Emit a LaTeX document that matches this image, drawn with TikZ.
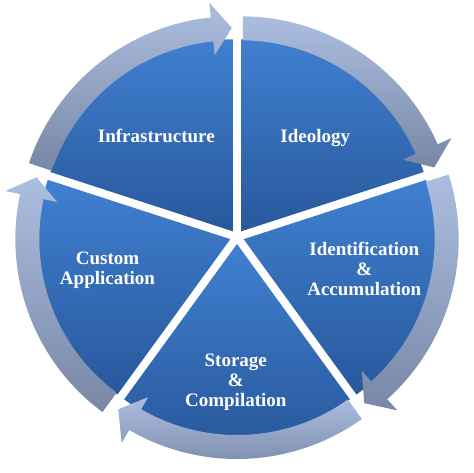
\documentclass[tikz,border=0pt]{standalone}
\usepackage{fontspec}
\setmainfont{Liberation Serif}

\definecolor{segtop}{RGB}{64,128,208}
\definecolor{segbottom}{RGB}{40,88,156}
\definecolor{ringtop}{RGB}{172,190,224}
\definecolor{ringbottom}{RGB}{120,135,166}

\tikzset{
    segment/.style={top color=segtop, bottom color=segbottom, draw=none},
    ringarrow/.style={top color=ringtop, bottom color=ringbottom, draw=none},
    seglabel/.style={text=white, font=\bfseries\fontsize{19}{20}\selectfont, align=center, inner sep=0pt}
}

\begin{document}
\begin{tikzpicture}[x=1pt, y=1pt]
    \useasboundingbox (-237,-235) rectangle (237,237);

    % pie segments, each pushed out along its middle
    \path [segment, shift={(54:7)}] (0,0) -- (90:192) arc[start angle=90, end angle=18, radius=192] -- cycle;
    \path [segment, shift={(-18:7)}] (0,0) -- (18:192) arc[start angle=18, end angle=-54, radius=192] -- cycle;
    \path [segment, shift={(-90:7)}] (0,0) -- (-54:192) arc[start angle=-54, end angle=-126, radius=192] -- cycle;
    \path [segment, shift={(-162:7)}] (0,0) -- (-126:192) arc[start angle=-126, end angle=-198, radius=192] -- cycle;
    \path [segment, shift={(126:7)}] (0,0) -- (162:192) arc[start angle=162, end angle=90, radius=192] -- cycle;

    % ring arrows
    \path [ringarrow, shift={(54:7)}] (89.5:215) arc[start angle=89.5, end angle=23.9, radius=215] -- (23.9:230) -- (18.3:203.5) -- (23.9:177) -- (23.9:191) arc[start angle=23.9, end angle=89.5, radius=191] -- cycle;
    \path [ringarrow, shift={(-18:7)}] (17.5:215) arc[start angle=17.5, end angle=-48.1, radius=215] -- (-48.1:230) -- (-53.7:203.5) -- (-48.1:177) -- (-48.1:191) arc[start angle=-48.1, end angle=17.5, radius=191] -- cycle;
    \path [ringarrow, shift={(-90:7)}] (-54.5:215) arc[start angle=-54.5, end angle=-120.1, radius=215] -- (-120.1:230) -- (-125.7:203.5) -- (-120.1:177) -- (-120.1:191) arc[start angle=-120.1, end angle=-54.5, radius=191] -- cycle;
    \path [ringarrow, shift={(-162:7)}] (-126.5:215) arc[start angle=-126.5, end angle=-192.1, radius=215] -- (-192.1:230) -- (-197.7:203.5) -- (-192.1:177) -- (-192.1:191) arc[start angle=-192.1, end angle=-126.5, radius=191] -- cycle;
    \path [ringarrow, shift={(126:7)}] (161.5:215) arc[start angle=161.5, end angle=95.9, radius=215] -- (95.9:230) -- (90.3:203.5) -- (95.9:177) -- (95.9:191) arc[start angle=95.9, end angle=161.5, radius=191] -- cycle;

    \node (infra) [seglabel, anchor=base] at (-80.7,94.7) {Infrastructure};
    \node (ideology) [seglabel, anchor=base] at (78.3,94.7) {Ideology};
    \node (ident) [seglabel] at (127.3,-31.5) {Identification\\\&\\Accumulation};
    \node (storage) [seglabel] at (-1.2,-145.3) {Storage\\\&\\Compilation};
    \node (custom) [seglabel] at (-129.5,-33.5) {Custom\\Application};
\end{tikzpicture}
\end{document}
